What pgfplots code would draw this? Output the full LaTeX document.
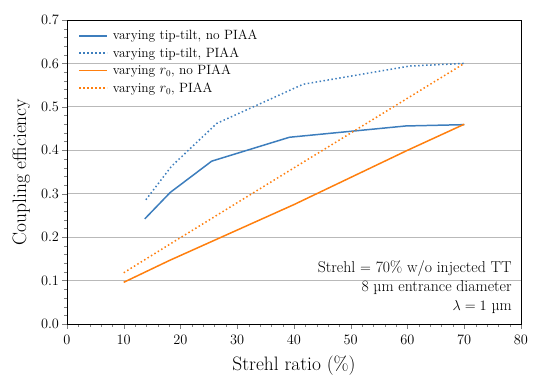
\documentclass[border=0pt]{standalone}
\usepackage{pgfplots}
\pgfplotsset{compat=1.18}
\definecolor{tblue}{HTML}{3D7EBD}
\definecolor{torange}{HTML}{FF7F0E}
\pgfplotsset{dotline/.style={dash pattern=on 1.5bp off 2.5bp}}
\begin{document}
\begin{tikzpicture}
\begin{axis}[
  width=454bp, height=304bp, scale only axis,
  xmin=0, xmax=80, ymin=0, ymax=0.7,
  xtick={0,10,...,80}, ytick={0,0.1,...,0.7},
  minor x tick num=4, minor y tick num=4,
  tick align=outside, major tick length=4.5bp, minor tick length=2.5bp,
  xtick pos=bottom, ytick pos=left,
  yticklabel style={/pgf/number format/fixed,/pgf/number format/fixed zerofill,/pgf/number format/precision=1},
  xticklabel style={yshift=-3bp},
  ymajorgrids, major grid style={gray!55, line width=0.8pt},
  tick label style={font=\fontsize{15.5}{17}\selectfont},
  xlabel={Strehl ratio (\%)}, ylabel={Coupling efficiency},
  label style={font=\fontsize{19.5}{21}\selectfont},
  xlabel style={yshift=-5bp}, ylabel style={yshift=4bp},
  axis line style={line width=0.8pt},
  legend style={draw=none, fill=none, at={(0.018,0.98)}, anchor=north west,
    font=\fontsize{13.5}{15}\selectfont, row sep=2.3bp, nodes={inner xsep=5bp}},
  legend image code/.code={\draw[#1] (0bp,0bp) -- (28bp,0bp);},
  legend cell align=left,
]
\addplot[tblue, line width=1.5pt] coordinates {(13.7,0.242) (18.2,0.303) (25.5,0.375) (39.2,0.430) (59.7,0.456) (70,0.459)};
\addlegendentry{varying tip-tilt, no PIAA}
\addplot[tblue, line width=1.5pt, dotline] coordinates {(13.9,0.286) (18.4,0.363) (26.4,0.462) (41.6,0.552) (60.4,0.594) (70,0.600)};
\addlegendentry{varying tip-tilt, PIAA}
\addplot[torange, line width=1.5pt] coordinates {(10,0.096) (18,0.146) (25.5,0.190) (40,0.275) (60,0.400) (70,0.460)};
\addlegendentry{varying $r_0$, no PIAA}
\addplot[torange, line width=1.5pt, dotline] coordinates {(10,0.118) (18.4,0.186) (32.2,0.297) (56.9,0.495) (70,0.600)};
\addlegendentry{varying $r_0$, PIAA}
\node[anchor=south east, align=right, font=\fontsize{15.8}{19}\selectfont, inner sep=0pt] at (rel axis cs:0.98,0.033)
  {Strehl $=$ 70\% w/o injected TT\\ 8 \textmu m entrance diameter\\ $\lambda = 1$ \textmu m};
\end{axis}
\pgfresetboundingbox
\path ([shift={(-67bp,-58bp)}]current axis.south west) rectangle ([shift={(24bp,20bp)}]current axis.north east);
\end{tikzpicture}
\end{document}
